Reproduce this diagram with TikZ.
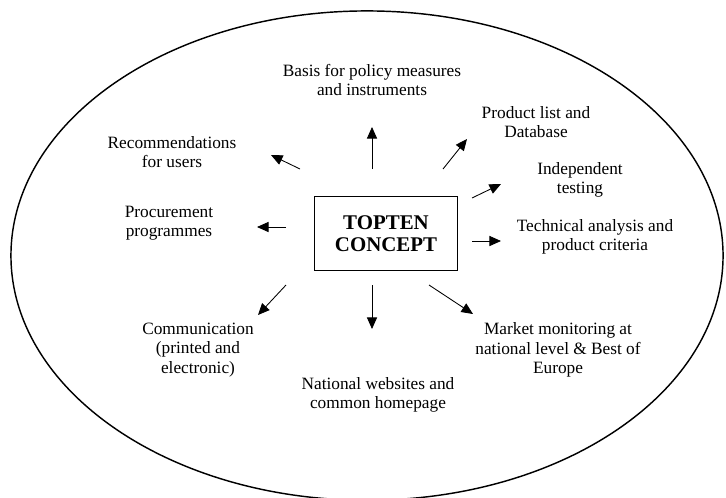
\documentclass[tikz,border=0pt]{standalone}
\usepackage{fontspec}
\setmainfont{Liberation Serif}
\usetikzlibrary{arrows.meta}
\tikzstyle{block} = [draw, rectangle, line width=0.7pt, minimum width=99.9pt, minimum height=50.7pt, align=center, font=\fontsize{14.5}{15}\selectfont\bfseries]
\tikzstyle{txt} = [align=center, inner sep=0pt, font=\fontsize{12}{13.3}\selectfont]
\tikzstyle{ring} = [draw, line width=1pt]

\begin{document}
\begin{tikzpicture}[x=0.694pt, y=-0.694pt, >={Triangle[length=8pt,width=7pt]}, line width=0.6pt]
\useasboundingbox (0,0) rectangle (726,497);
\draw [ring] (367,255.6) ellipse [x radius=247.1pt, y radius=169.8pt];

\node [block] (concept) at (386,233.5) {TOPTEN\\CONCEPT};

\node [txt] (basis) at (372,80) {Basis for policy measures\\and instruments};
\node [txt] (prodlist) at (536,122) {Product list and\\Database};
\node [txt] (recomm) at (172,152) {Recommendations\\for users};
\node [txt] (indep) at (580,180) {Independent\\testing};
\node [txt] (procure) at (169,223) {Procurement\\programmes};
\node [txt] (techn) at (595,237) {Technical analysis and\\product criteria};
\node [txt] (comm) at (198,350) {Communication\\(printed and\\electronic)};
\node [txt] (market) at (558,350) {Market monitoring at\\national level \& Best of\\Europe};
\node [txt] (websites) at (378,395) {National websites and\\common homepage};

\coordinate (n0) at (372,169); \coordinate (n1) at (372,127);
\coordinate (ne0) at (443,169); \coordinate (ne1) at (467,139);
\coordinate (nw0) at (300,169); \coordinate (nw1) at (271,155);
\coordinate (ene0) at (472,198); \coordinate (ene1) at (501,184);
\coordinate (w0) at (286,227); \coordinate (w1) at (257,227);
\coordinate (e0) at (472,241); \coordinate (e1) at (501,241);
\coordinate (sw0) at (286,285); \coordinate (sw1) at (258,315);
\coordinate (s0) at (372,285); \coordinate (s1) at (372,329);
\coordinate (se0) at (429,285); \coordinate (se1) at (473,314);

\draw [->] (n0) -- (n1);
\draw [->] (ne0) -- (ne1);
\draw [->] (nw0) -- (nw1);
\draw [->] (ene0) -- (ene1);
\draw [->] (w0) -- (w1);
\draw [->] (e0) -- (e1);
\draw [->] (sw0) -- (sw1);
\draw [->] (s0) -- (s1);
\draw [->] (se0) -- (se1);
\end{tikzpicture}
\end{document}
